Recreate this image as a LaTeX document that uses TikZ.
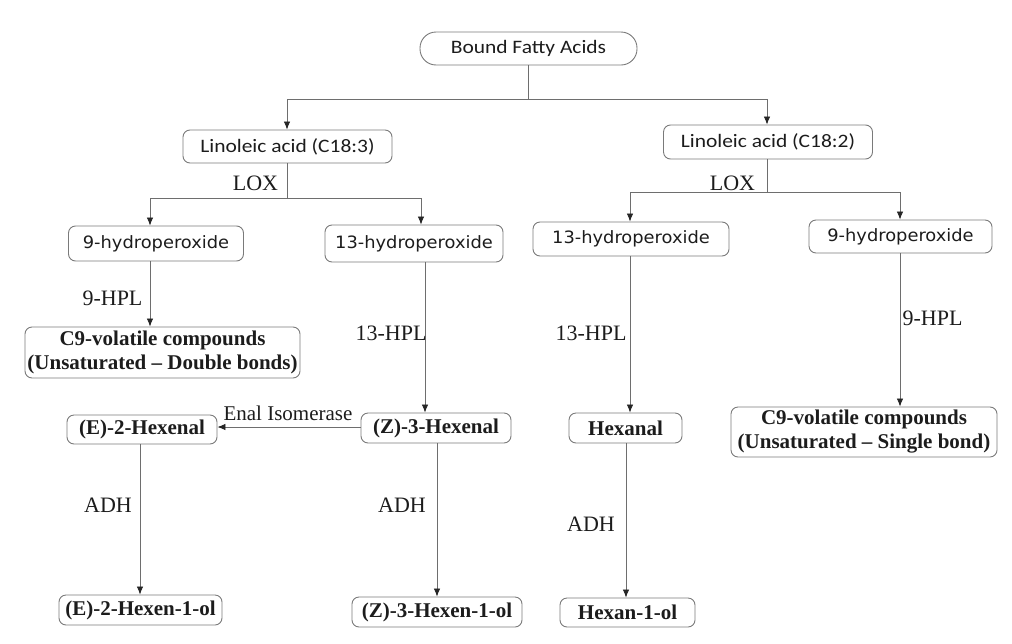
\documentclass[tikz,border=0pt]{standalone}
\usepackage{fontspec}
\setmainfont{Liberation Serif}
\newfontfamily\calib[FakeStretch=1.13]{Carlito}
\newfontfamily\dvs[FakeStretch=1.05]{DejaVu Sans}
\usetikzlibrary{arrows.meta}
\definecolor{txt}{HTML}{1C1C1C}
\definecolor{edge}{HTML}{7A7A7A}
\definecolor{lin}{HTML}{6E6E6E}
\definecolor{tip}{HTML}{262626}
\tikzset{
  box/.style={draw=edge, line width=0.9pt, rounded corners=7pt, inner sep=0pt, text=txt, align=center},
  pill/.style={box, rounded corners=16pt},
  sanslab/.style={font=\calib\fontsize{19}{22}\selectfont},
  dvslab/.style={font=\dvs\fontsize{17}{20}\selectfont},
  serb/.style={font=\bfseries\fontsize{21}{24}\selectfont},
  lab/.style={text=txt, inner sep=0pt, font=\fontsize{22}{24}\selectfont},
  conn/.style={draw=lin, line width=0.8pt},
  arr/.style={conn, -{Latex[length=8pt,width=6.5pt,color=tip]}},
}
\begin{document}
\begin{tikzpicture}[x=1pt,y=-1pt]
\useasboundingbox (0,0) rectangle (1012,643);
% nodes
\node[pill, sanslab, minimum width=217pt, minimum height=33pt] (top) at (528.5,48.5) {Bound Fatty Acids};
\node[box, sanslab, minimum width=209pt, minimum height=33pt] (l183) at (287.5,146.5) {Linoleic acid (C18:3)};
\node[box, sanslab, minimum width=209pt, minimum height=34pt] (l182) at (768,142) {Linoleic acid (C18:2)};
\node[box, dvslab, minimum width=175pt, minimum height=35pt] (h9l) at (156,243.5) {9-hydroperoxide};
\node[box, dvslab, minimum width=178pt, minimum height=37pt] (h13l) at (414,243.5) {13-hydroperoxide};
\node[box, dvslab, minimum width=196pt, minimum height=34pt] (h13r) at (631,239) {13-hydroperoxide};
\node[box, dvslab, minimum width=183pt, minimum height=33pt] (h9r) at (900.5,236.5) {9-hydroperoxide};
\node[box, serb, minimum width=275pt, minimum height=51pt] (c9l) at (162.5,352.5) {C9-volatile compounds\\(Unsaturated -- Double bonds)};
\node[box, serb, minimum width=266pt, minimum height=50pt] (c9r) at (864,432) {C9-volatile compounds\\(Unsaturated -- Single bond)};
\node[box, serb, minimum width=150pt, minimum height=29pt] (e2) at (142,429.5) {(E)-2-Hexenal};
\node[box, serb, minimum width=150pt, minimum height=30pt] (z3) at (436,428) {(Z)-3-Hexenal};
\node[box, serb, minimum width=113pt, minimum height=30pt] (hexanal) at (625.5,428) {Hexanal};
\node[box, serb, minimum width=163pt, minimum height=30pt] (e2ol) at (140.5,610) {(E)-2-Hexen-1-ol};
\node[box, serb, minimum width=170pt, minimum height=30pt] (z3ol) at (437,612) {(Z)-3-Hexen-1-ol};
\node[box, serb, minimum width=135pt, minimum height=29pt] (hexol) at (627.5,612.5) {Hexan-1-ol};
% junctions
\coordinate (j0) at (528,99);
\coordinate (j1) at (287,198);
\coordinate (j2) at (767,192);
% connectors
\draw[conn] (top.south -| j0) -- (j0);
\draw[arr] (j0) -| (l183.north -| j1);
\draw[arr] (j0) -| (l182.north -| j2);
\draw[conn] (l183.south -| j1) -- (j1);
\draw[arr] (j1) -| ([xshift=-6pt]h9l.north);
\draw[arr] (j1) -| ([xshift=7pt]h13l.north);
\draw[conn] (l182.south -| j2) -- (j2);
\draw[arr] (j2) -| ([xshift=-1pt]h13r.north);
\draw[arr] (j2) -| ([xshift=-0.5pt]h9r.north);
\draw[arr] ([xshift=-6pt]h9l.south) -- ([xshift=-6pt]h9l.south |- c9l.north);
\draw[arr] ([xshift=11pt]h13l.south) -- ([xshift=11pt]h13l.south |- z3.north);
\draw[arr] ([xshift=-1pt]h13r.south) -- ([xshift=-1pt]h13r.south |- hexanal.north);
\draw[arr] ([xshift=-0.5pt]h9r.south) -- ([xshift=-0.5pt]h9r.south |- c9r.north);
\draw[arr] ([yshift=1pt]z3.west) -- ([yshift=1pt]z3.west -| e2.east);
\draw[arr] ([xshift=-2pt]e2.south) -- ([xshift=-2pt]e2.south |- e2ol.north);
\draw[arr] ([xshift=1pt]z3.south) -- ([xshift=1pt]z3.south |- z3ol.north);
\draw[arr] ([xshift=0.5pt]hexanal.south) -- ([xshift=0.5pt]hexanal.south |- hexol.north);
% labels
\node[lab] (lox1) at (255.5,183) {LOX};
\node[lab] (lox2) at (732.5,183) {LOX};
\node[lab] (hpl9l) at (112.5,298) {9-HPL};
\node[lab] (hpl13l) at (391,333) {13-HPL};
\node[lab] (hpl13r) at (591,333) {13-HPL};
\node[lab] (hpl9r) at (932.5,318) {9-HPL};
\node[lab, font=\fontsize{21}{24}\selectfont] (enal) at (288,413) {Enal Isomerase};
\node[lab] (adh1) at (108,505) {ADH};
\node[lab] (adh2) at (402,505) {ADH};
\node[lab] (adh3) at (591,524) {ADH};
\end{tikzpicture}
\end{document}
